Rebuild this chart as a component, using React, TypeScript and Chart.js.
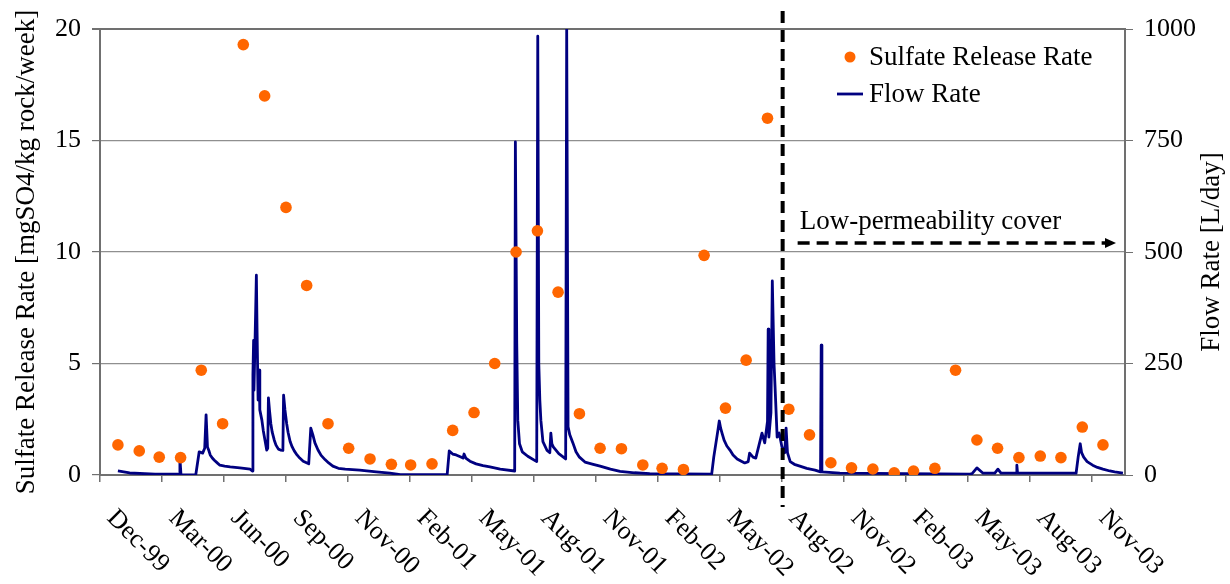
import React, { useEffect, useRef } from "react";
import { Chart, registerables } from "chart.js";

Chart.register(...registerables);

const FONT = '"Liberation Serif", "Times New Roman", Times, serif';

// ---- Sulfate release rate (monthly samples) [mgSO4/kg rock/week]
const sulfateMonths = [
  "2000-01", "2000-02", "2000-03", "2000-04", "2000-05", "2000-06", "2000-07", "2000-08", "2000-09", "2000-10", "2000-11", "2000-12",
  "2001-01", "2001-02", "2001-03", "2001-04", "2001-05", "2001-06", "2001-07", "2001-08", "2001-09", "2001-10", "2001-11", "2001-12",
  "2002-01", "2002-02", "2002-03", "2002-04", "2002-05", "2002-06", "2002-07", "2002-08", "2002-09", "2002-10", "2002-11", "2002-12",
  "2003-01", "2003-02", "2003-03", "2003-04", "2003-05", "2003-06", "2003-07", "2003-08", "2003-09", "2003-10", "2003-11", "2003-12",
];
const sulfateRate = [
  1.35, 1.08, 0.8, 0.78, 4.7, 2.3, 19.3, 17.0, 12.0, 8.5, 2.3, 1.2,
  0.72, 0.48, 0.45, 0.5, 2.0, 2.8, 5.0, 10.0, 10.95, 8.2, 2.75, 1.2,
  1.18, 0.45, 0.3, 0.25, 9.85, 3.0, 5.15, 16.0, 2.95, 1.8, 0.55, 0.32,
  0.27, 0.1, 0.18, 0.3, 4.7, 1.57, 1.2, 0.78, 0.85, 0.78, 2.15, 1.35,
];

// ---- Flow rate [L/day]; x = days since 1 Jan 2000
const flowDays = [
  0, 17, 54, 87, 89, 90, 91.5, 93, 113, 118, 123, 126, 128, 130, 132, 134, 137, 140, 145, 148,
  155, 163, 177, 192, 195, 196, 197, 197.5, 199, 200, 201, 202, 203.5, 205, 206, 209, 211, 213.5, 216, 217.5,
  218.5, 220, 222, 224, 227, 229.5, 233, 236, 239.5, 240.5, 242.5, 245, 247, 250, 253, 256, 260, 264, 269, 273,
  277, 280, 283, 286, 290.5, 295, 301, 306, 312, 320, 330, 351, 375, 395, 410, 478, 481, 486, 491, 497,
  501, 502.5, 505, 511, 520, 530, 540, 555, 576, 577, 579, 580.5, 583, 587, 595, 608, 609.5, 611, 612.5, 614,
  617, 623, 627, 628.5, 630, 632, 640, 650, 651.5, 653.5, 656, 660.5, 665, 670, 678, 690, 700, 715, 729, 750,
  772, 862, 865, 871, 873, 875, 877, 880, 884, 888.5, 893, 899, 905, 910, 915, 917, 922, 926, 935, 939,
  943, 944, 945, 948, 950, 952.5, 954, 957, 960, 964, 968, 970, 972, 976, 982, 990, 1000, 1012, 1020, 1021,
  1022, 1048, 1237, 1240, 1247, 1256, 1273, 1277.5, 1282, 1304, 1305, 1306, 1391, 1394, 1397, 1399, 1402, 1407, 1415, 1422,
  1430, 1440, 1447, 1459,
];
const flowRate = [
  9, 4.5, 2, 2, 0, 38, 2, 0, 0, 52, 49, 60, 135, 63, 55, 45, 38, 33, 26, 22,
  20, 18, 16, 13, 9, 224, 302, 190, 296, 370, 448, 325, 168, 235, 146, 123, 100, 78, 56, 60,
  173, 146, 115, 96, 78, 67, 58, 56, 55, 179, 146, 115, 96, 75, 63, 54, 45, 38, 31, 28,
  25, 105, 90, 72, 56, 44, 34, 27, 20, 15, 13, 11, 7, 4, 1, 1, 54, 47, 45, 41,
  38, 47, 38, 31, 25, 21, 18, 13, 9, 747, 296, 123, 70, 52, 42, 30, 984, 250, 168, 123,
  75, 55, 50, 94, 70, 63, 48, 36, 1000, 108, 90, 72, 52, 40, 29, 24, 20, 13, 8, 5,
  3, 2, 40, 100, 121, 105, 94, 78, 65, 56, 45, 36, 31, 27, 30, 49, 40, 38, 94, 72,
  120, 327, 85, 140, 435, 250, 197, 85, 94, 63, 50, 105, 50, 30, 24, 20, 15, 11, 7, 291,
  7, 4, 2, 3, 16, 4, 4, 13, 4, 4, 22, 4, 4, 40, 70, 50, 40, 30, 22, 17,
  13, 9, 7, 4,
];

// ---- X axis (days since 1 Jan 2000; first tick = 6 Dec 1999, every 90 days)
const xTickDays = [-26, 64, 154, 244, 334, 424, 514, 604, 694, 784, 874, 964, 1054, 1144, 1234, 1324, 1414];
const xTickLabels = [
  "Dec-99", "Mar-00", "Jun-00", "Sep-00", "Nov-00", "Feb-01", "May-01", "Aug-01", "Nov-01",
  "Feb-02", "May-02", "Aug-02", "Nov-02", "Feb-03", "May-03", "Aug-03", "Nov-03",
];
const xMinDay = -26;
const xMaxDay = 1462;

// ---- Left / right axis ticks
const leftTicks = [0, 5, 10, 15, 20];
const rightTicks = [0, 250, 500, 750, 1000];

// ---- Titles, annotation, legend
const leftTitle = "Sulfate Release Rate [mgSO4/kg rock/week]";
const rightTitle = "Flow Rate [L/day]";
const coverStartDay = 965; // low-permeability cover installed
const coverLabel = "Low-permeability cover";
const coverArrowLevel = 10.4; // on the sulfate axis
const coverTextLevel = 11.05;
const legendLabels = ["Sulfate Release Rate", "Flow Rate"];

const ORANGE = "#FF6600";
const NAVY = "#000080";
const AXIS = "#707070";
const GRID = "#8f8f8f";

function monthToDay(m: string): number {
  const [y, mo] = m.split("-").map(Number);
  return (Date.UTC(y, mo - 1, 1) - Date.UTC(2000, 0, 1)) / 86400000;
}

const overlayPlugin = {
  id: "overlay",
  afterDraw(chart: any) {
    const ctx: CanvasRenderingContext2D = chart.ctx;
    const xs = chart.scales.x;
    const ys = chart.scales.y;
    const area = chart.chartArea;
    ctx.save();

    // rotated x tick labels (reading down-right)
    ctx.font = `26px ${FONT}`;
    ctx.fillStyle = "#000";
    ctx.textAlign = "left";
    ctx.textBaseline = "alphabetic";
    xTickDays.forEach((d, i) => {
      const px = xs.getPixelForValue(d);
      ctx.save();
      ctx.translate(px + 6, area.bottom + 44);
      ctx.rotate(Math.PI / 4);
      ctx.fillText(xTickLabels[i], 0, 0);
      ctx.restore();
    });

    // right axis title (reads bottom-to-top)
    ctx.save();
    ctx.font = `27px ${FONT}`;
    ctx.textAlign = "center";
    ctx.textBaseline = "middle";
    ctx.translate(1212, (area.top + area.bottom) / 2);
    ctx.rotate(-Math.PI / 2);
    ctx.fillText(rightTitle, 0, 0);
    ctx.restore();

    // vertical dashed line
    const cx = xs.getPixelForValue(coverStartDay);
    ctx.strokeStyle = "#000";
    ctx.lineWidth = 4;
    ctx.setLineDash([12, 7]);
    ctx.beginPath();
    ctx.moveTo(cx, area.top - 18);
    ctx.lineTo(cx, area.bottom + 32);
    ctx.stroke();

    // arrow
    const ay = ys.getPixelForValue(coverArrowLevel);
    const tipX = area.right - 9;
    ctx.lineWidth = 3.5;
    ctx.setLineDash([12, 7]);
    ctx.beginPath();
    ctx.moveTo(cx + 15, ay);
    ctx.lineTo(tipX - 9, ay);
    ctx.stroke();
    ctx.setLineDash([]);
    ctx.fillStyle = "#000";
    ctx.beginPath();
    ctx.moveTo(tipX, ay);
    ctx.lineTo(tipX - 11, ay - 5);
    ctx.lineTo(tipX - 11, ay + 5);
    ctx.closePath();
    ctx.fill();

    // annotation text
    ctx.font = `27px ${FONT}`;
    ctx.textAlign = "left";
    ctx.textBaseline = "alphabetic";
    ctx.fillText(coverLabel, cx + 17, ys.getPixelForValue(coverTextLevel));

    // legend
    const lx = area.right - 288;
    ctx.fillStyle = ORANGE;
    ctx.beginPath();
    ctx.arc(lx + 13, area.top + 28, 5.5, 0, Math.PI * 2);
    ctx.fill();
    ctx.strokeStyle = NAVY;
    ctx.lineWidth = 2.8;
    ctx.beginPath();
    ctx.moveTo(lx, area.top + 65);
    ctx.lineTo(lx + 26, area.top + 65);
    ctx.stroke();
    ctx.fillStyle = "#000";
    ctx.textBaseline = "middle";
    ctx.fillText(legendLabels[0], lx + 32, area.top + 29);
    ctx.fillText(legendLabels[1], lx + 32, area.top + 66);

    ctx.restore();
  },
};

export default function App() {
  const ref = useRef<HTMLCanvasElement>(null);

  useEffect(() => {
    const canvas = ref.current;
    if (!canvas) return;
    Chart.defaults.font.family = FONT;

    const sulfatePoints = sulfateMonths.map((m, i) => ({ x: monthToDay(m), y: sulfateRate[i] }));
    const flowPoints = flowDays.map((d, i) => ({ x: d, y: flowRate[i] }));

    const chart = new Chart(canvas, {
      type: "line",
      data: {
        datasets: [
          {
            label: legendLabels[0],
            data: sulfatePoints,
            yAxisID: "y",
            showLine: false,
            pointRadius: 5.8,
            pointHoverRadius: 5.8,
            pointBackgroundColor: ORANGE,
            pointBorderWidth: 0,
            borderColor: ORANGE,
            backgroundColor: ORANGE,
          },
          {
            label: legendLabels[1],
            data: flowPoints,
            yAxisID: "y1",
            borderColor: NAVY,
            borderWidth: 2.8,
            borderJoinStyle: "round",
            pointRadius: 0,
            tension: 0,
            fill: false,
          },
        ],
      },
      options: {
        responsive: false,
        animation: false,
        events: [],
        layout: { padding: { top: 29, left: 0, right: 0, bottom: 0 } },
        plugins: {
          legend: { display: false },
          tooltip: { enabled: false },
        },
        scales: {
          x: {
            type: "linear",
            min: xMinDay,
            max: xMaxDay,
            afterBuildTicks: (scale: any) => {
              scale.ticks = xTickDays.map((v) => ({ value: v }));
            },
            afterFit: (scale: any) => {
              scale.height = 109;
            },
            ticks: { display: false, autoSkip: false },
            grid: {
              drawOnChartArea: false,
              drawTicks: true,
              tickLength: 7,
              color: AXIS,
              lineWidth: 1.5,
            },
            border: { display: true, color: AXIS, width: 2 },
          },
          y: {
            type: "linear",
            position: "left",
            min: 0,
            max: 20,
            afterBuildTicks: (scale: any) => {
              scale.ticks = leftTicks.map((v) => ({ value: v }));
            },
            afterFit: (scale: any) => {
              scale.width = 100;
            },
            ticks: {
              font: { size: 26, family: FONT },
              color: "#000",
              padding: 11,
              callback: (v: any) => String(v),
            },
            grid: {
              color: (c: any) => (c.tick && c.tick.value === 20 ? AXIS : GRID),
              lineWidth: (c: any) => (c.tick && c.tick.value === 20 ? 2 : 1.2),
              tickColor: AXIS,
              tickLength: 8,
            },
            border: { display: true, color: AXIS, width: 2 },
            title: {
              display: true,
              text: leftTitle,
              font: { size: 27, family: FONT },
              color: "#000",
              padding: { top: 11, bottom: 0 },
            },
          },
          y1: {
            type: "linear",
            position: "right",
            min: 0,
            max: 1000,
            afterBuildTicks: (scale: any) => {
              scale.ticks = rightTicks.map((v) => ({ value: v }));
            },
            afterFit: (scale: any) => {
              scale.width = 105;
            },
            ticks: {
              font: { size: 26, family: FONT },
              color: "#000",
              padding: 11,
              callback: (v: any) => String(v),
            },
            grid: {
              drawOnChartArea: false,
              tickColor: AXIS,
              tickLength: 8,
            },
            border: { display: true, color: AXIS, width: 2 },
          },
        },
      },
      plugins: [overlayPlugin],
    } as any);

    return () => chart.destroy();
  }, []);

  return (
    <div style={{ position: "fixed", left: 0, top: 0, width: 1230, height: 584, background: "#fff" }}>
      <canvas ref={ref} width={1230} height={584} style={{ display: "block" }} />
    </div>
  );
}
